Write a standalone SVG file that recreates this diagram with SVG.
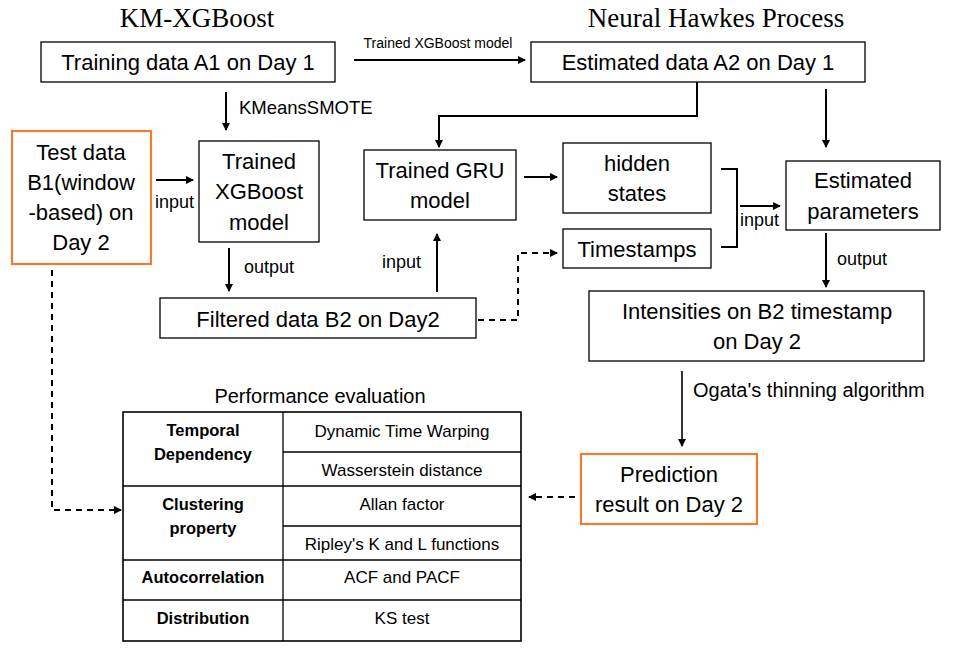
<svg xmlns="http://www.w3.org/2000/svg" width="957" height="656" viewBox="0 0 957 656">
<style>
.box{fill:#fff;stroke:#000;stroke-width:1.3}
.obox{fill:#fff;stroke:#ED7D31;stroke-width:2.2}
.t{font-family:"Liberation Sans",Arial,sans-serif;font-size:22px;text-anchor:middle;fill:#000}
.lbl{font-family:"Liberation Sans",Arial,sans-serif;font-size:18px;fill:#000}
.title{font-family:"Liberation Serif","Times New Roman",serif;font-size:27px;text-anchor:middle;fill:#000}
.tb{font-family:"Liberation Sans",Arial,sans-serif;font-size:17px;text-anchor:middle;fill:#000}
.tbb{font-family:"Liberation Sans",Arial,sans-serif;font-size:16.5px;font-weight:bold;text-anchor:middle;fill:#000}
.ln{fill:none;stroke:#000;stroke-width:2}
.dl{fill:none;stroke:#000;stroke-width:2;stroke-dasharray:6,5}
.cell{fill:none;stroke:#000;stroke-width:1.3}
</style>
<defs>
<marker id="ah" markerWidth="8" markerHeight="8" refX="7" refY="4" orient="auto" markerUnits="userSpaceOnUse">
<path d="M0,0 L8,4 L0,8 Z" fill="#000"/>
</marker>
</defs>
<rect width="957" height="656" fill="#fff"/>

<g id="titles">
<text class="title" x="197" y="27">KM-XGBoost</text>
<text class="title" x="716" y="27">Neural Hawkes Process</text>
</g>

<g id="trainA1">
<rect class="box" x="41" y="42" width="294" height="40"/>
<text class="t" x="188" y="70">Training data A1 on Day 1</text>
</g>
<g id="estA2">
<rect class="box" x="531" y="42" width="334" height="40"/>
<text class="t" x="698" y="70">Estimated data A2 on Day 1</text>
</g>
<g id="testB1">
<rect class="obox" x="12" y="131" width="139" height="133"/>
<text class="t" x="81" y="160">Test data</text>
<text class="t" x="81" y="190">B1(window</text>
<text class="t" x="81" y="220">-based) on</text>
<text class="t" x="81" y="250">Day 2</text>
</g>
<g id="xgb">
<rect class="box" x="199" y="141" width="120" height="101"/>
<text class="t" x="259" y="169">Trained</text>
<text class="t" x="259" y="199">XGBoost</text>
<text class="t" x="259" y="230">model</text>
</g>
<g id="filteredB2">
<rect class="box" x="160" y="298" width="316" height="40"/>
<text class="t" x="318" y="327">Filtered data B2 on Day2</text>
</g>
<g id="gru">
<rect class="box" x="364" y="150" width="152" height="70"/>
<text class="t" x="440" y="178">Trained GRU</text>
<text class="t" x="440" y="208">model</text>
</g>
<g id="hidden">
<rect class="box" x="563" y="143" width="148" height="70"/>
<text class="t" x="637" y="171">hidden</text>
<text class="t" x="637" y="201">states</text>
</g>
<g id="timestamps">
<rect class="box" x="563" y="229" width="148" height="39"/>
<text class="t" x="637" y="257">Timestamps</text>
</g>
<g id="params">
<rect class="box" x="786" y="161" width="154" height="69"/>
<text class="t" x="863" y="188">Estimated</text>
<text class="t" x="863" y="219">parameters</text>
</g>
<g id="intensities">
<rect class="box" x="589" y="291" width="335" height="70"/>
<text class="t" x="757" y="319">Intensities on B2 timestamp</text>
<text class="t" x="757" y="349">on Day 2</text>
</g>
<g id="prediction">
<rect class="obox" x="581" y="454" width="176" height="70"/>
<text class="t" x="669" y="482">Prediction</text>
<text class="t" x="669" y="512">result on Day 2</text>
</g>

<g id="perf">
<text class="lbl" x="320" y="403" text-anchor="middle" style="font-size:20px">Performance evaluation</text>
<rect class="cell" x="123" y="412" width="398" height="229" style="stroke-width:1.6"/>
<line class="cell" x1="283" y1="412" x2="283" y2="641"/>
<line class="cell" x1="283" y1="452" x2="521" y2="452"/>
<line class="cell" x1="123" y1="486" x2="521" y2="486"/>
<line class="cell" x1="283" y1="526" x2="521" y2="526"/>
<line class="cell" x1="123" y1="560" x2="521" y2="560"/>
<line class="cell" x1="123" y1="600" x2="521" y2="600"/>
<text class="tbb" x="203" y="436">Temporal</text>
<text class="tbb" x="203" y="460">Dependency</text>
<text class="tbb" x="203" y="510">Clustering</text>
<text class="tbb" x="203" y="534">property</text>
<text class="tbb" x="203" y="583">Autocorrelation</text>
<text class="tbb" x="203" y="624">Distribution</text>
<text class="tb" x="402" y="437">Dynamic Time Warping</text>
<text class="tb" x="402" y="476">Wasserstein distance</text>
<text class="tb" x="402" y="510">Allan factor</text>
<text class="tb" x="402" y="550">Ripley's K and L functions</text>
<text class="tb" x="402" y="583">ACF and PACF</text>
<text class="tb" x="402" y="624">KS test</text>
</g>

<g id="connectors">
<line class="ln" x1="354" y1="60" x2="525" y2="60" marker-end="url(#ah)"/>
<text class="lbl" x="438" y="48" text-anchor="middle" style="font-size:14px">Trained XGBoost  model</text>
<line class="ln" x1="226" y1="92" x2="226" y2="130" marker-end="url(#ah)"/>
<text class="lbl" x="239" y="114" style="font-size:18.5px">KMeansSMOTE</text>
<line class="ln" x1="156" y1="180" x2="193" y2="180" marker-end="url(#ah)"/>
<text class="lbl" x="155" y="208">input</text>
<line class="ln" x1="229" y1="248" x2="229" y2="291" marker-end="url(#ah)"/>
<text class="lbl" x="244" y="273">output</text>
<line class="ln" x1="437" y1="292" x2="437" y2="234" marker-end="url(#ah)"/>
<text class="lbl" x="382" y="268">input</text>
<polyline class="ln" points="697,82 697,116 439,116 439,147" marker-end="url(#ah)"/>
<line class="ln" x1="524" y1="177" x2="557" y2="177" marker-end="url(#ah)"/>
<polyline class="dl" points="478,320 518,320 518,253 557,253" marker-end="url(#ah)"/>
<polyline class="ln" points="721,169 737,169 737,247 721,247"/>
<line class="ln" x1="740" y1="206" x2="780" y2="206" marker-end="url(#ah)"/>
<text class="lbl" x="740" y="226">input</text>
<line class="ln" x1="826" y1="89" x2="826" y2="147" marker-end="url(#ah)"/>
<line class="ln" x1="826" y1="233" x2="826" y2="287" marker-end="url(#ah)"/>
<text class="lbl" x="837" y="265">output</text>
<line class="ln" x1="682" y1="371" x2="682" y2="446" marker-end="url(#ah)" style="stroke-width:1.6"/>
<text class="lbl" x="693" y="397" style="font-size:20px">Ogata's thinning algorithm</text>
<line class="dl" x1="575" y1="497" x2="529" y2="497" marker-end="url(#ah)"/>
<polyline class="dl" points="52,270 52,510 121,510" marker-end="url(#ah)"/>
</g>
</svg>
